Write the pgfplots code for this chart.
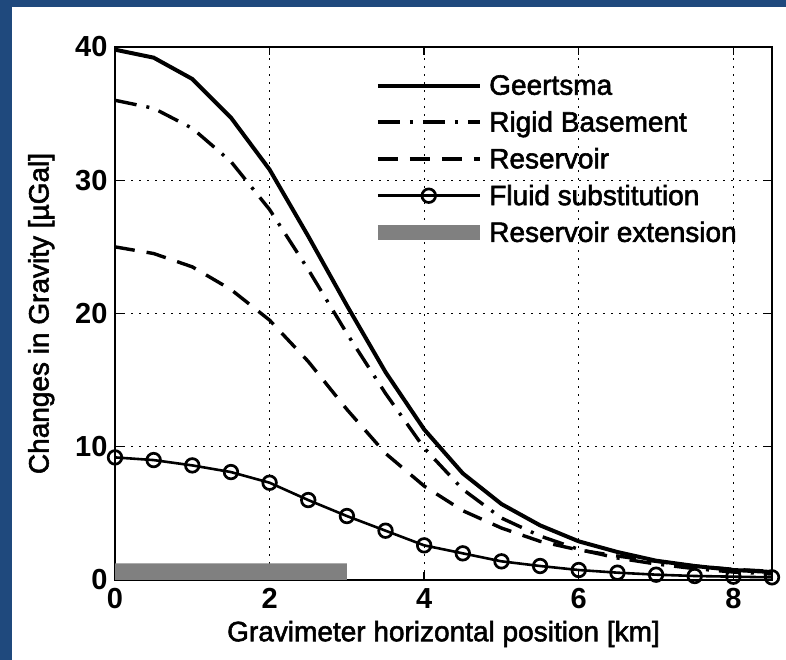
\documentclass[border=0pt]{standalone}
\usepackage{fontspec}
\setmainfont{Liberation Sans}
\newfontfamily\medfont{Liberation Sans}[FakeBold=2]
\usepackage{pgfplots}
\pgfplotsset{compat=1.18}
\definecolor{frameblue}{RGB}{31,73,125}
\definecolor{extgray}{RGB}{128,128,128}

% Geertsma, rigid basement, reservoir, fluid substitution (x in km, dg in microGal)
\pgfplotstableread{
x    geer  rigid  res   fluid
0    39.8  36.0   25.0  9.2
0.5  39.2  35.4   24.5  9.0
1    37.6  33.9   23.5  8.6
1.5  34.7  31.4   21.8  8.1
2    30.8  27.8   19.5  7.3
2.5  25.8  23.3   16.4  6.0
3    20.6  18.5   12.8  4.8
3.5  15.6  14.0   9.5   3.7
4    11.3  9.9    7.05  2.6
4.5  8.0   6.8    5.2   2.0
5    5.7   4.65   3.9   1.4
5.5  4.1   3.3    2.9   1.05
6    2.9   2.3    2.25  0.75
6.5  2.1   1.65   1.8   0.55
7    1.45  1.2    1.4   0.4
7.5  1.05  0.85   1.05  0.3
8    0.75  0.6    0.8   0.25
8.5  0.6   0.45   0.65  0.2
}\gravdata

\begin{document}
\begin{tikzpicture}
\useasboundingbox (0,0) rectangle (786pt,660pt);
\fill[white] (0,0) rectangle (786pt,660pt);
\fill[frameblue] (0,0) rectangle (12pt,660pt);
\fill[frameblue] (0,653pt) rectangle (786pt,660pt);
\begin{axis}[
    at={(115pt,80pt)}, anchor=south west,
    scale only axis, width=657pt, height=533pt,
    xmin=0, xmax=8.5, ymin=0, ymax=40,
    xtick={0,2,4,6,8}, ytick={0,10,20,30,40},
    tick align=inside, major tick length=8pt,
    axis line style={line width=1.6pt},
    every tick/.style={black, line width=1.4pt},
    grid=major,
    major grid style={black, line width=1pt, dash pattern=on 1.5pt off 6.5pt},
    /pgf/number format/assume math mode=true,
    ticklabel style={font=\fontsize{29}{30}\selectfont\bfseries},
    xticklabel style={yshift=-5pt},
    yticklabel style={xshift=-4pt},
    label style={font=\fontsize{28}{30}\selectfont\medfont},
    xlabel={Gravimeter horizontal position [km]},
    ylabel={Changes in Gravity [µGal]},
    xlabel style={yshift=-5pt},
    ylabel style={yshift=14pt},
    legend cell align=left,
    legend style={at={(axis cs:3.3,38.05)}, anchor=north west, draw=none, fill=none,
        font=\fontsize{28}{30}\selectfont\medfont, row sep=11pt, inner sep=0pt},
    legend image code/.code={\draw[mark repeat=2,mark phase=2,#1] plot coordinates {(0pt,0pt)(51pt,0pt)(102pt,0pt)};},
]
\addplot[fill=extgray, draw=none, forget plot] coordinates {(0,0)(3,0)(3,1.25)(0,1.25)} \closedcycle;
\addplot[black, line width=4pt] table[x=x,y=geer] {\gravdata};
\addlegendentry{Geertsma}
\addplot[black, line width=3.4pt, dash pattern=on 22pt off 10pt on 3pt off 10pt] table[x=x,y=rigid] {\gravdata};
\addlegendentry{Rigid Basement}
\addplot[black, line width=3.4pt, dash pattern=on 20pt off 12pt] table[x=x,y=res] {\gravdata};
\addlegendentry{Reservoir}
\addplot[black, line width=2.6pt, mark=o, mark size=6.8pt, mark options={line width=2.7pt, fill=none}] table[x=x,y=fluid] {\gravdata};
\addlegendentry{Fluid substitution}
\addlegendimage{extgray, line width=15pt}
\addlegendentry{Reservoir extension}
\end{axis}
\end{tikzpicture}
\end{document}
